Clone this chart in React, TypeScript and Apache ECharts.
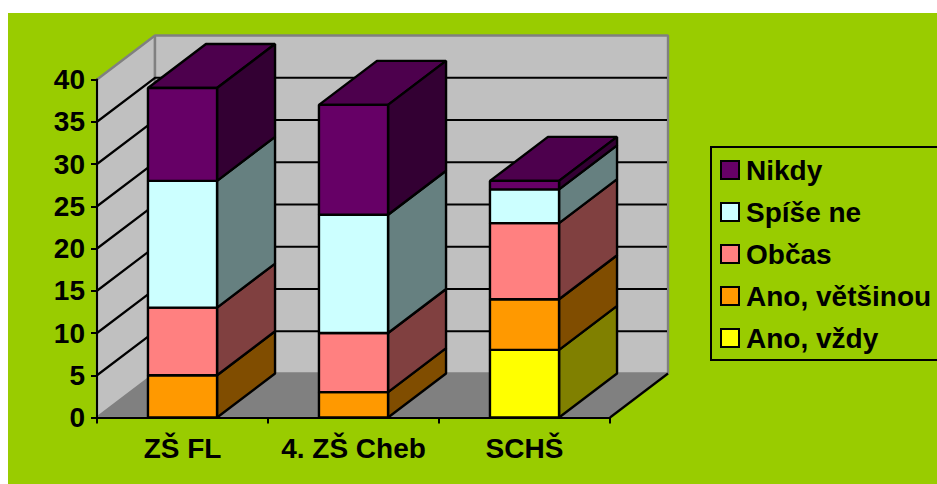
import React, { useEffect, useRef } from "react";
import * as echarts from "echarts";

const categories = ["ZŠ FL", "4. ZŠ Cheb", "SCHŠ"];
const anoVzdy = [0, 0, 8];
const anoVetsinou = [5, 3, 6];
const obcas = [8, 7, 9];
const spiseNe = [15, 14, 4];
const nikdy = [11, 13, 1];
const seriesNames = ["Ano, vždy", "Ano, většinou", "Občas", "Spíše ne", "Nikdy"];
const seriesValues = [anoVzdy, anoVetsinou, obcas, spiseNe, nikdy];
const seriesColors = ["#FFFF00", "#FF9900", "#FF8080", "#CCFFFF", "#660066"];
const yTicks = [5, 10, 15, 20, 25, 30, 35];

const DX = 58;
const DY = -44;
const FONT = "'Liberation Sans', Arial, sans-serif";

function shade(hex: string, k: number) {
  const n = parseInt(hex.slice(1), 16);
  const c = [(n >> 16) & 255, (n >> 8) & 255, n & 255].map((v) => Math.round(v * k));
  return `rgb(${c[0]},${c[1]},${c[2]})`;
}

function buildOption() {
  const totals = categories.map(() => 0);
  const barSeries = seriesNames.map((name, s) => {
    const data = categories.map((_, c) => {
      const start = totals[c];
      totals[c] += seriesValues[s][c];
      return [c, start, totals[c]];
    });
    const color = seriesColors[s];
    return {
      type: "custom",
      name,
      z: 3,
      coordinateSystem: "cartesian2d",
      encode: { x: 0, y: [1, 2] },
      itemStyle: { color, borderColor: "#000", borderWidth: 2 },
      data,
      renderItem: (_: any, api: any) => {
        const c = api.value(0);
        const a = api.coord([c, api.value(1)]);
        const b = api.coord([c, api.value(2)]);
        if (api.value(2) === api.value(1)) return { type: "group", children: [] };
        const w = api.size([1, 0])[0] * 0.404;
        const l = a[0] - w / 2;
        const r = a[0] + w / 2;
        const stroke = { stroke: "#000", lineWidth: 2.4, lineJoin: "bevel" };
        return {
          type: "group",
          children: [
            { type: "polygon", shape: { points: [[l, b[1]], [r, b[1]], [r + DX, b[1] + DY], [l + DX, b[1] + DY]] }, style: { fill: shade(color, 0.75), ...stroke } },
            { type: "polygon", shape: { points: [[r, a[1]], [r + DX, a[1] + DY], [r + DX, b[1] + DY], [r, b[1]]] }, style: { fill: shade(color, 0.5), ...stroke } },
            { type: "polygon", shape: { points: [[l, a[1]], [r, a[1]], [r, b[1]], [l, b[1]]] }, style: { fill: color, ...stroke } },
          ],
        };
      },
    };
  });

  const walls = {
    type: "custom",
    name: "walls",
    z: 1,
    coordinateSystem: "cartesian2d",
    encode: { x: 0, y: 1 },
    silent: true,
    data: [[0, 0]],
    renderItem: (params: any, api: any) => {
      const cs = params.coordSys;
      const L = cs.x;
      const R = cs.x + cs.width;
      const B = cs.y + cs.height;
      const T = cs.y;
      const gray = { stroke: "#808080", lineWidth: 2.4, lineJoin: "bevel" };
      const children: any[] = [
        { type: "polygon", shape: { points: [[L, B], [R, B], [R + DX, B + DY], [L + DX, B + DY]] }, style: { fill: "#808080", stroke: "#8c8c8c", lineWidth: 1.5, lineJoin: "bevel" } },
        { type: "polygon", shape: { points: [[L, T], [L + DX, T + DY], [L + DX, B + DY], [L, B]] }, style: { fill: "#C0C0C0", ...gray } },
        { type: "polygon", shape: { points: [[L + DX, T + DY], [R + DX, T + DY], [R + DX, B + DY], [L + DX, B + DY]] }, style: { fill: "#C0C0C0", ...gray } },
      ];
      yTicks.forEach((t) => {
        const y = api.coord([0, t])[1];
        children.push({
          type: "polyline",
          shape: { points: [[L, y], [L + DX, y + DY], [R + DX - 1, y + DY]] },
          style: { fill: "none", stroke: "#000", lineWidth: 2.2 },
        });
      });
      children.push({
        type: "line",
        shape: { x1: R, y1: B, x2: R + DX, y2: B + DY },
        style: { stroke: "#000", lineWidth: 2.2 },
      });
      return { type: "group", children };
    },
  };

  return {
    animation: false,
    backgroundColor: "#99CC00",
    grid: { left: 89, top: 66.5, width: 513, height: 338, containLabel: false },
    xAxis: {
      type: "category",
      data: categories,
      z: 6,
      axisLine: { lineStyle: { color: "#000", width: 2 } },
      axisTick: { show: true, length: 6, lineStyle: { color: "#000", width: 2 } },
      axisLabel: { color: "#000", interval: 0, fontFamily: FONT, fontWeight: "bold", fontSize: 28, margin: 17 },
    },
    yAxis: {
      type: "value",
      min: 0,
      max: 40,
      interval: 5,
      z: 6,
      splitLine: { show: false },
      axisLine: { show: true, lineStyle: { color: "#000", width: 2 } },
      axisTick: { show: true, length: 6, lineStyle: { color: "#000", width: 2 } },
      axisLabel: { color: "#000", fontFamily: FONT, fontWeight: "bold", fontSize: 28, margin: 12 },
    },
    legend: {
      data: [...seriesNames].reverse(),
      orient: "vertical",
      icon: "rect",
      left: 703,
      top: 134,
      padding: [9, 20, 8, 9],
      itemWidth: 18,
      itemHeight: 18,
      itemGap: 14,
      borderColor: "#000",
      borderWidth: 2,
      selectedMode: false,
      textStyle: { color: "#000", fontFamily: FONT, fontWeight: "bold", fontSize: 28, padding: [0, 0, 0, 2] },
    },
    series: [walls, ...barSeries],
  };
}

export default function App() {
  const ref = useRef<HTMLDivElement>(null);
  useEffect(() => {
    const chart = echarts.init(ref.current!, undefined, { renderer: "svg" });
    chart.setOption(buildOption() as any);
    return () => chart.dispose();
  }, []);
  return <div ref={ref} style={{ position: "absolute", left: 8, top: 13, width: 929, height: 471 }} />;
}
